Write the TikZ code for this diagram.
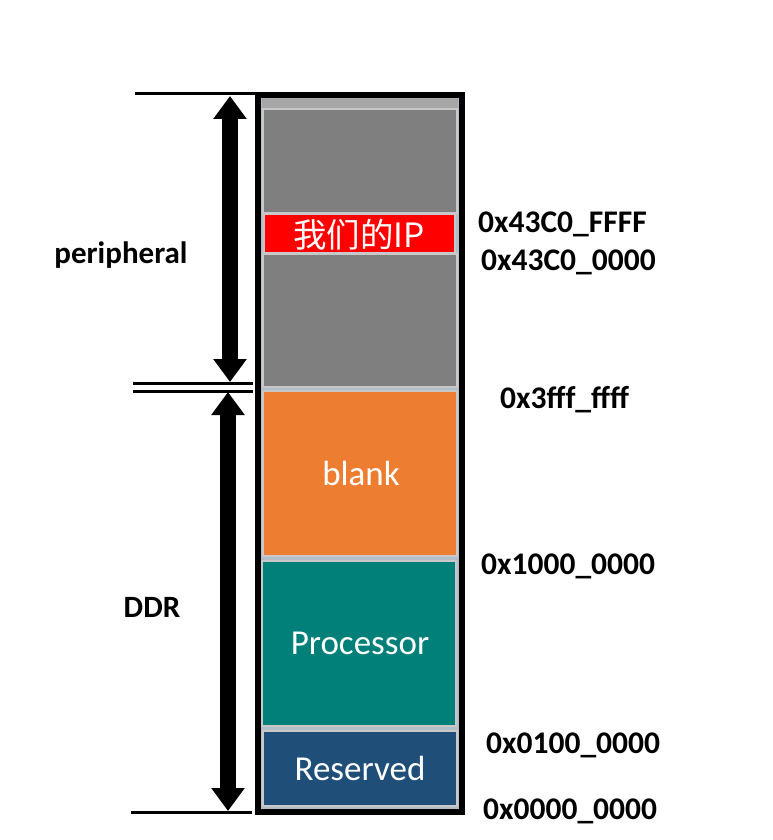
\documentclass[tikz,border=0pt]{standalone}
\usepackage{fontspec}
\setmainfont{Carlito}
\newfontfamily\cjk{Noto Sans CJK SC}
\usetikzlibrary{arrows.meta}
\definecolor{blkgray}{HTML}{7F7F7F}
\definecolor{stripgray}{HTML}{A6A6A6}
\definecolor{blkred}{HTML}{FF0000}
\definecolor{blkorange}{HTML}{ED7D31}
\definecolor{blkteal}{HTML}{008078}
\definecolor{blknavy}{HTML}{1F4E79}
\definecolor{edgegray}{HTML}{C8C8C8}
\definecolor{gapgray}{HTML}{B4BEC8}
\tikzset{
  block/.style={draw=edgegray, line width=2pt},
  blocktext/.style={text=white, font=\fontsize{35}{35}\selectfont},
  addr/.style={anchor=base west, inner sep=0pt, font=\fontsize{31.5}{31.5}\selectfont\bfseries},
  sidelabel/.style={anchor=base, inner sep=0pt, font=\fontsize{31}{31}\selectfont\bfseries},
  bigarrows/.style={line width=16pt, {Triangle[width=32pt,length=23pt]}-{Triangle[width=32pt,length=23pt]}},
  tick/.style={line width=3pt},
}
\begin{document}
\begin{tikzpicture}[x=1pt,y=-1pt]
\useasboundingbox (0,0) rectangle (773,840);
% frame interior
\fill[gapgray] (258,95) rectangle (462,812);
\fill[stripgray] (262,98) rectangle (458,108);
% blocks
\draw[block, fill=blkgray] (263,109) rectangle (457,213);
\draw[block, fill=blkred] (264,214) rectangle (455,253);
\draw[block, fill=blkgray] (263,254) rectangle (457,387);
\draw[block, fill=blkorange] (263,391) rectangle (457,556);
\draw[block, fill=blkteal] (262,561) rectangle (456,726);
\draw[block, fill=blknavy] (263,731) rectangle (457,806);
% outer frame
\draw[line width=6pt] (258,95) rectangle (462,812);
% block labels
\node[blocktext] (ip) at (359,235) {\cjk\fontsize{33.5}{33.5}\selectfont 我们的IP};
\node[blocktext] (blank) at (361,473) {blank};
\node[blocktext] (proc) at (360,643) {Processor};
\node[blocktext] (res) at (360,768) {Reserved};
% address labels
\node[addr] (a1) at (478,232) {0x43C0\_FFFF};
\node[addr] (a2) at (481,270) {0x43C0\_0000};
\node[addr] (a3) at (500,408) {0x3fff\_ffff};
\node[addr] (a4) at (481,574) {0x1000\_0000};
\node[addr] (a5) at (486,753) {0x0100\_0000};
\node[addr] (a6) at (483,819) {0x0000\_0000};
% side labels
\node[sidelabel] (per) at (121,263) {peripheral};
\node[sidelabel] (ddr) at (152,617) {DDR};
% tick lines
\coordinate (t1a) at (135,94); \coordinate (t1b) at (256,94);
\coordinate (t2a) at (133,383); \coordinate (t2b) at (253,383);
\coordinate (t3a) at (133,391); \coordinate (t3b) at (253,391);
\coordinate (t4a) at (131,812); \coordinate (t4b) at (252,812);
\draw[tick] (t1a) -- (t1b);
\draw[tick] (t2a) -- (t2b);
\draw[tick] (t3a) -- (t3b);
\draw[tick] (t4a) -- (t4b);
% arrows
\coordinate (p1) at (230,96); \coordinate (p2) at (230,382);
\coordinate (d1) at (228,392); \coordinate (d2) at (228,811);
\draw[bigarrows] (p1) -- (p2);
\draw[bigarrows] (d1) -- (d2);
\end{tikzpicture}
\end{document}
